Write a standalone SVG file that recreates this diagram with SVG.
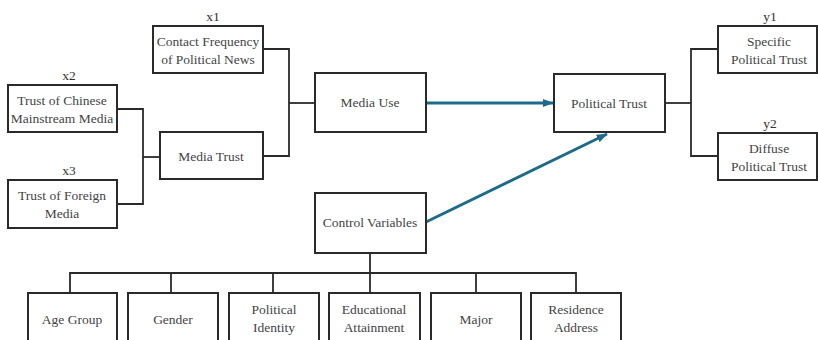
<svg xmlns="http://www.w3.org/2000/svg" width="818" height="340" viewBox="0 0 818 340">
<defs>
<style>
.box{fill:#fff;stroke:#2a2a2a;stroke-width:2}
.t{font-family:"Liberation Serif","Times New Roman",serif;font-size:13.5px;fill:#444;text-anchor:middle}
.lbl{font-family:"Liberation Serif","Times New Roman",serif;font-size:13.5px;fill:#333;text-anchor:middle}
.ln{fill:none;stroke:#2a2a2a;stroke-width:1.8}
.ar{fill:none;stroke:#1d6a8b;stroke-width:3}
</style>
<marker id="ah" markerWidth="4" markerHeight="4" refX="3.4" refY="2" orient="auto" markerUnits="strokeWidth">
<path d="M0,0.6 L3.6,2 L0,3.4 Z" fill="#1d6a8b"/>
</marker>
</defs>
<rect width="818" height="340" fill="#fff"/>
<g id="connectors">
<polyline class="ln" points="117,109 143,109 143,204 117,204"/>
<line class="ln" x1="143" y1="157" x2="160" y2="157"/>
<polyline class="ln" points="263,49 289,49 289,156 263,156"/>
<line class="ln" x1="289" y1="103" x2="315" y2="103"/>
<line class="ar" x1="426" y1="103" x2="553" y2="103" marker-end="url(#ah)"/>
<line class="ar" x1="426" y1="222" x2="607" y2="134" marker-end="url(#ah)"/>
<line class="ln" x1="665" y1="103" x2="691" y2="103"/>
<polyline class="ln" points="718,49 691,49 691,156 718,156"/>
<line class="ln" x1="370" y1="253" x2="370" y2="273"/>
<polyline class="ln" points="70,293 70,273 576,273 576,293"/>
<line class="ln" x1="171" y1="273" x2="171" y2="293"/>
<line class="ln" x1="273" y1="273" x2="273" y2="293"/>
<line class="ln" x1="370" y1="273" x2="370" y2="293"/>
<line class="ln" x1="476" y1="273" x2="476" y2="293"/>
</g>
<g id="x1">
<text class="lbl" x="213" y="21">x1</text>
<rect class="box" x="153" y="26" width="110" height="47"/>
<text class="t" x="208" y="46">Contact Frequency</text>
<text class="t" x="208" y="64">of Political News</text>
</g>
<g id="x2">
<text class="lbl" x="69" y="80">x2</text>
<rect class="box" x="8" y="85" width="109" height="47"/>
<text class="t" x="62" y="105">Trust of Chinese</text>
<text class="t" x="62" y="123">Mainstream Media</text>
</g>
<g id="x3">
<text class="lbl" x="69" y="175">x3</text>
<rect class="box" x="8" y="180" width="109" height="48"/>
<text class="t" x="62" y="200">Trust of Foreign</text>
<text class="t" x="62" y="218">Media</text>
</g>
<g id="media-trust">
<rect class="box" x="160" y="132" width="103" height="47"/>
<text class="t" x="211" y="161">Media Trust</text>
</g>
<g id="media-use">
<rect class="box" x="315" y="73" width="111" height="59"/>
<text class="t" x="370" y="107">Media Use</text>
</g>
<g id="political-trust">
<rect class="box" x="554" y="74" width="111" height="58"/>
<text class="t" x="609" y="108">Political Trust</text>
</g>
<g id="y1">
<text class="lbl" x="770" y="21">y1</text>
<rect class="box" x="718" y="26" width="99" height="47"/>
<text class="t" x="769" y="46">Specific</text>
<text class="t" x="769" y="64">Political Trust</text>
</g>
<g id="y2">
<text class="lbl" x="770" y="128">y2</text>
<rect class="box" x="718" y="133" width="99" height="47"/>
<text class="t" x="769" y="153">Diffuse</text>
<text class="t" x="769" y="171">Political Trust</text>
</g>
<g id="control-variables">
<rect class="box" x="315" y="193" width="111" height="60"/>
<text class="t" x="370" y="227">Control Variables</text>
</g>
<g id="age-group">
<rect class="box" x="28" y="293" width="89" height="60"/>
<text class="t" x="72" y="324">Age Group</text>
</g>
<g id="gender">
<rect class="box" x="128" y="293" width="90" height="60"/>
<text class="t" x="173" y="324">Gender</text>
</g>
<g id="political-identity">
<rect class="box" x="229" y="293" width="90" height="60"/>
<text class="t" x="274" y="314">Political</text>
<text class="t" x="274" y="332">Identity</text>
</g>
<g id="educational-attainment">
<rect class="box" x="329" y="293" width="91" height="60"/>
<text class="t" x="374" y="314">Educational</text>
<text class="t" x="374" y="332">Attainment</text>
</g>
<g id="major">
<rect class="box" x="431" y="293" width="90" height="60"/>
<text class="t" x="476" y="324">Major</text>
</g>
<g id="residence-address">
<rect class="box" x="531" y="293" width="90" height="60"/>
<text class="t" x="576" y="314">Residence</text>
<text class="t" x="576" y="332">Address</text>
</g>
</svg>
